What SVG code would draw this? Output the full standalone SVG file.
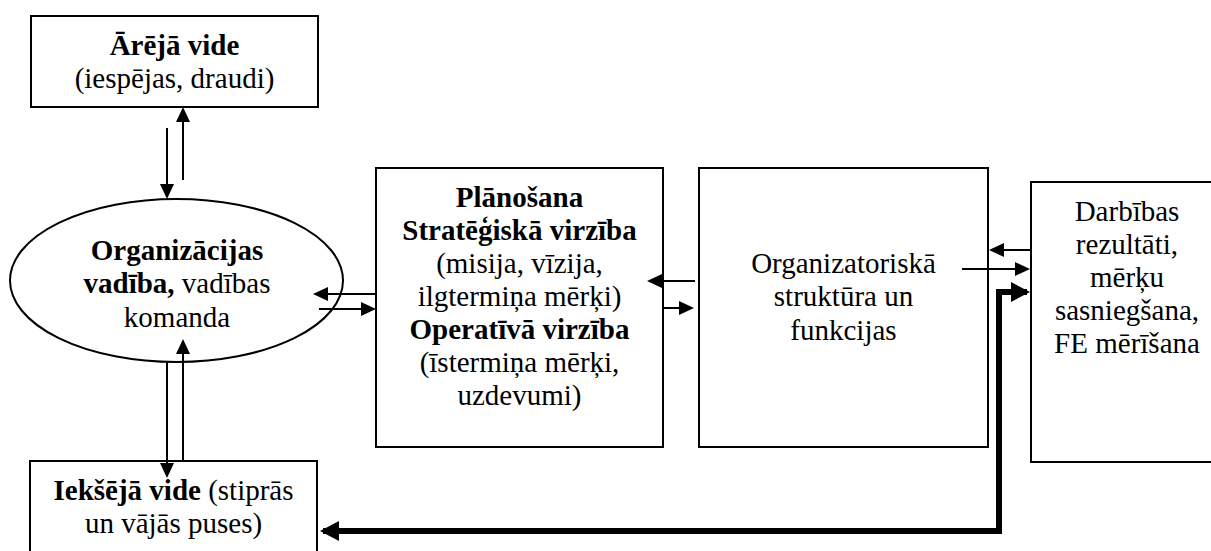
<svg xmlns="http://www.w3.org/2000/svg" width="1211" height="551" viewBox="0 0 1211 551">
  <style>
    .box { fill: #ffffff; stroke: #000000; stroke-width: 2; }
    .lbl { font-size: 29px; fill: #000000; text-anchor: middle; }
    .con { fill: none; stroke: #000000; stroke-width: 2; marker-end: url(#ah); }
    .thick { fill: none; stroke: #000000; stroke-width: 6; stroke-linejoin: miter; marker-start: url(#ahb); marker-end: url(#ahb); }
  </style>
  <defs>
    <marker id="ah" markerUnits="userSpaceOnUse" markerWidth="15" markerHeight="14" refX="13" refY="7" orient="auto">
      <path d="M0,0 L15,7 L0,14 z" fill="#000000"/>
    </marker>
    <marker id="ahb" markerUnits="userSpaceOnUse" markerWidth="19" markerHeight="20" refX="16" refY="10" orient="auto-start-reverse">
      <path d="M0,0 L19,10 L0,20 z" fill="#000000"/>
    </marker>
  </defs>

  <!-- external environment -->
  <g id="arejavide">
    <rect class="box" x="31" y="16" width="287" height="91"/>
    <text class="lbl" x="174.5" y="55" font-family="Times New Roman, Liberation Serif, serif" font-weight="bold">Ārējā vide</text>
    <text class="lbl" x="174.5" y="88" font-family="Times New Roman, Liberation Serif, serif">(iespējas, draudi)</text>
  </g>

  <!-- management -->
  <g id="vadiba">
    <ellipse class="box" cx="176.5" cy="280.5" rx="166.5" ry="81.5"/>
    <text class="lbl" x="177" y="260" font-family="Times New Roman, Liberation Serif, serif" font-weight="bold">Organizācijas</text>
    <text class="lbl" x="177" y="293" font-family="Times New Roman, Liberation Serif, serif"><tspan font-weight="bold">vadība,</tspan> vadības</text>
    <text class="lbl" x="177" y="327" font-family="Times New Roman, Liberation Serif, serif">komanda</text>
  </g>

  <!-- internal environment -->
  <g id="ieksejavide">
    <rect class="box" x="30" y="461" width="287" height="100"/>
    <text class="lbl" x="173.5" y="500" font-family="Times New Roman, Liberation Serif, serif"><tspan font-weight="bold">Iekšējā vide</tspan> (stiprās</text>
    <text class="lbl" x="173.5" y="533" font-family="Times New Roman, Liberation Serif, serif">un vājās puses)</text>
  </g>

  <!-- planning -->
  <g id="planosana">
    <rect class="box" x="376" y="168" width="287" height="279"/>
    <text class="lbl" x="519.5" y="207" font-family="Times New Roman, Liberation Serif, serif" font-weight="bold">Plānošana</text>
    <text class="lbl" x="519.5" y="240" font-family="Times New Roman, Liberation Serif, serif" font-weight="bold">Stratēģiskā virzība</text>
    <text class="lbl" x="519.5" y="273" font-family="Times New Roman, Liberation Serif, serif">(misija, vīzija,</text>
    <text class="lbl" x="519.5" y="306" font-family="Times New Roman, Liberation Serif, serif">ilgtermiņa mērķi)</text>
    <text class="lbl" x="519.5" y="339" font-family="Times New Roman, Liberation Serif, serif" font-weight="bold">Operatīvā virzība</text>
    <text class="lbl" x="519.5" y="372" font-family="Times New Roman, Liberation Serif, serif">(īstermiņa mērķi,</text>
    <text class="lbl" x="519.5" y="405" font-family="Times New Roman, Liberation Serif, serif">uzdevumi)</text>
  </g>

  <!-- organisational structure -->
  <g id="struktura">
    <rect class="box" x="699" y="168" width="289" height="279"/>
    <text class="lbl" x="843.5" y="273" font-family="Times New Roman, Liberation Serif, serif">Organizatoriskā</text>
    <text class="lbl" x="843.5" y="306" font-family="Times New Roman, Liberation Serif, serif">struktūra un</text>
    <text class="lbl" x="843.5" y="340" font-family="Times New Roman, Liberation Serif, serif">funkcijas</text>
  </g>

  <!-- results -->
  <g id="rezultati">
    <rect class="box" x="1031" y="182" width="190" height="280"/>
    <text class="lbl" x="1127" y="221" font-family="Times New Roman, Liberation Serif, serif">Darbības</text>
    <text class="lbl" x="1127" y="254" font-family="Times New Roman, Liberation Serif, serif">rezultāti,</text>
    <text class="lbl" x="1127" y="287" font-family="Times New Roman, Liberation Serif, serif">mērķu</text>
    <text class="lbl" x="1127" y="320" font-family="Times New Roman, Liberation Serif, serif">sasniegšana,</text>
    <text class="lbl" x="1127" y="353" font-family="Times New Roman, Liberation Serif, serif">FE mērīšana</text>
  </g>

  <!-- connectors -->
  <g id="connectors">
    <path class="con" d="M167,128 V197"/>
    <path class="con" d="M183,180 V109"/>
    <path class="con" d="M319,309 H374"/>
    <path class="con" d="M376,294 H315"/>
    <path class="con" d="M695,281 H649"/>
    <path class="con" d="M663,308 H692"/>
    <path class="con" d="M1031,250 H991"/>
    <path class="con" d="M962,269 H1028"/>
    <path class="con" d="M167,362 V476"/>
    <path class="con" d="M183,461 V341"/>
    <path class="thick" d="M323,531 H999 V292 H1027"/>
  </g>
</svg>
